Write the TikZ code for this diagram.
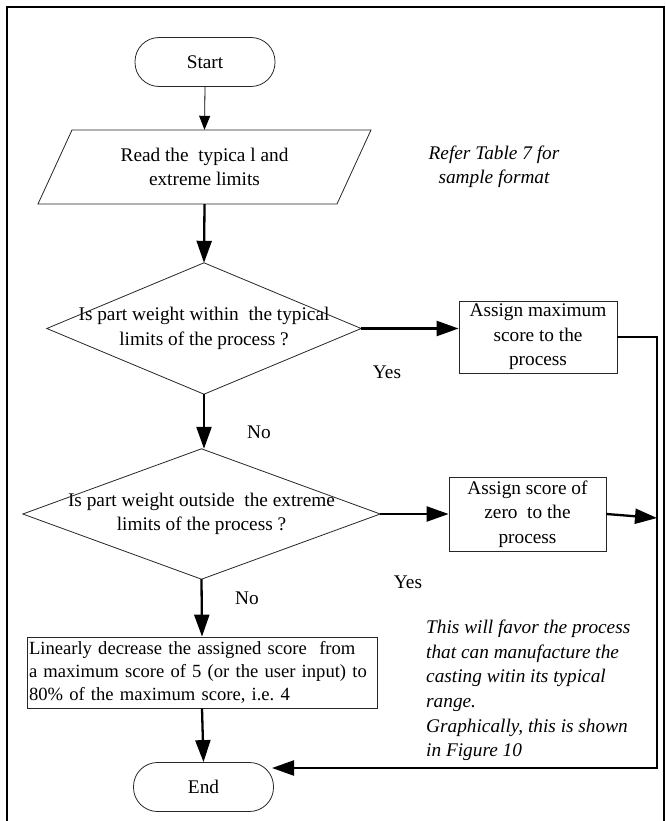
\documentclass[tikz,border=0pt]{standalone}
\usepackage{fontspec}
\setmainfont{Liberation Serif}
\usetikzlibrary{arrows.meta,calc}
\frenchspacing
\begin{document}
\begin{tikzpicture}[x=1pt,y=-1pt,
  txt/.style={font=\fontsize{19.3}{24.5}\selectfont},
  outline/.style={draw=black!85, line width=0.8pt},
  terminal/.style={outline, txt, rounded corners=24pt, minimum width=140pt,
    minimum height=49pt, inner sep=0pt},
  procbox/.style={outline, txt, inner sep=0pt, align=center},
  frame/.style={inner sep=0pt, txt, align=center},
  flow/.style={line width=2.3pt, -{Triangle[length=22pt,width=15pt]}},
  thinflow/.style={line width=0.8pt, -{Triangle[length=14pt,width=11pt]}},
  note/.style={txt, font=\fontsize{19.3}{24.5}\selectfont\itshape},
  lbl/.style={txt, inner sep=0pt}
]
% page area
\useasboundingbox (0,0) rectangle (665,821);
\draw[line width=2pt] (7,823) -- (7,7) -- (664,7) -- (664,823);

% terminals
\node[terminal] (start) at (205,62) {Start};
\node[terminal] (end) at (203.5,787) {End};

% input / output parallelogram
\node[frame, minimum width=266pt, minimum height=74pt] (read) at (204.5,167)
  {Read the\ \ typica l and\\extreme limits};
\draw[outline] (38,204) -- (72,130) -- (371,130) -- (337,204) -- cycle;

% decisions
\node[frame, minimum width=314pt, minimum height=131pt] (d1) at (204,328.5)
  {Is part weight within\ \ the typical\\limits of the process ?};
\draw[outline] (d1.north) -- (d1.east) -- (d1.south) -- (d1.west) -- cycle;

\node[frame, minimum width=357pt, minimum height=130pt] (d2) at (201.5,514)
  {Is part weight outside\ \ the extreme\\limits of the process ?};
\draw[outline] (d2.north) -- (d2.east) -- (d2.south) -- (d2.west) -- cycle;

% process boxes
\node[procbox, minimum width=158pt, minimum height=72pt] (max) at (538,337)
  {Assign maximum\\score to the\\process};
\node[procbox, minimum width=157pt, minimum height=74pt] (zero) at (527.5,514)
  {Assign score of\\zero\ \ to the\\process};
\node[procbox, align=left, text width=346pt, minimum height=71pt,
  inner xsep=2pt, font=\fontsize{18.6}{22.8}\selectfont] (lin) at (202,672.5)
  {\mbox{Linearly decrease the assigned score\ \ from}\\
   \mbox{a maximum score of 5 (or the user input) to}\\
   \mbox{80\% of the maximum score, i.e. 4}};

% side notes
\node[note, align=center] (ref) at (494,167) {Refer Table 7 for\\sample format};
\node[note, align=left, anchor=west, inner sep=0pt] (fav) at (426,690.5)
  {This will favor the process\\that can manufacture the\\casting witin its typical\\range.\\Graphically, this is shown\\in Figure 10};

% branch labels
\node[lbl] (yes1) at (387,372) {Yes};
\node[lbl] (no1) at (259,432) {No};
\node[lbl] (yes2) at (408,582) {Yes};
\node[lbl] (no2) at (247,598) {No};

% return line on the right
\coordinate (rtop) at (657,337);
\coordinate (rbot) at (657,768);
\coordinate (rjoin) at (657,518);
\coordinate (endin) at (272,768);

% connectors
\draw[thinflow] (start.south) -- (read.north);
\draw[flow] (read.south) -- (d1.north);
\draw[flow] (d1.east) -- (d1.east -| max.west);
\draw[flow] (d1.south) -- (d1.south |- d2.north);
\draw[flow] (d2.east) -- (d2.east -| zero.west);
\draw[flow] (d2.south) -- (lin.north);
\draw[flow] (lin.south) -- (end.north);
\draw[flow] (zero.east) -- (rjoin);
\draw[flow] (max.east) -- (rtop) -- (rbot) -- (endin);
\end{tikzpicture}
\end{document}
